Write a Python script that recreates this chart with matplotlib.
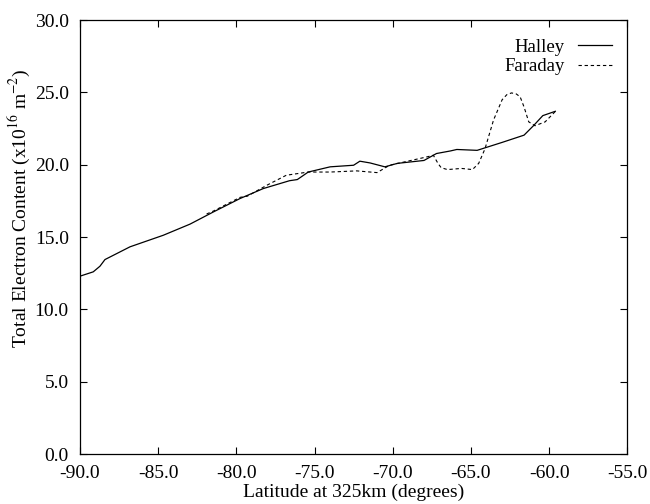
import matplotlib

matplotlib.use("Agg")
import matplotlib.pyplot as plt
from matplotlib.ticker import FormatStrFormatter, MultipleLocator

plt.rcParams["font.family"] = ["Liberation Serif", "DejaVu Serif"]
plt.rcParams["mathtext.fontset"] = "stix"
plt.rcParams["axes.unicode_minus"] = False

# Halley TEC vs latitude
halley_lat = [-90.0, -89.15, -88.72, -88.4, -86.8, -84.67, -82.96, -81.47, -79.76,
              -78.27, -76.6, -76.1, -75.4, -74.0, -72.5, -72.1, -71.45, -70.5, -69.7,
              -68.0, -67.2, -66.3, -65.9, -64.6, -63.0, -61.6, -61.0, -60.4, -59.6]
halley_tec = [12.3, 12.6, 12.99, 13.45, 14.33, 15.13, 15.9, 16.74, 17.67,
              18.36, 18.9, 18.98, 19.5, 19.86, 19.97, 20.25, 20.13, 19.86, 20.1,
              20.3, 20.78, 20.96, 21.06, 21.0, 21.55, 22.05, 22.7, 23.4, 23.7]

# Faraday TEC vs latitude
faraday_lat = [-81.9, -81.47, -79.76, -79.3, -78.06, -76.8, -75.4, -74.0, -72.3,
               -71.0, -70.2, -67.8, -67.4, -67.1, -66.9, -66.5, -65.6, -64.9,
               -64.5, -64.1, -63.55, -63.0, -62.7, -62.4, -62.1, -61.85, -61.6,
               -61.3, -60.9, -60.25, -59.5]
faraday_tec = [16.6, 16.8, 17.75, 17.83, 18.58, 19.28, 19.5, 19.5, 19.58,
               19.46, 19.97, 20.55, 20.66, 20.09, 19.8, 19.67, 19.75, 19.67,
               20.1, 21.1, 23.1, 24.5, 24.85, 24.97, 24.9, 24.7, 24.0,
               22.97, 22.7, 22.97, 23.8]

fig = plt.figure(figsize=(6.5, 5.04), dpi=100)
ax = fig.add_axes([0.123, 0.099, 0.842, 0.861])

ax.plot(halley_lat, halley_tec, color="black", linewidth=0.9, label="Halley")
ax.plot(faraday_lat, faraday_tec, color="black", linewidth=0.8,
        linestyle=(0, (3, 2.5)), label="Faraday")

ax.set_xlim(-90, -55)
ax.set_ylim(0, 30)
ax.xaxis.set_major_locator(MultipleLocator(5))
ax.yaxis.set_major_locator(MultipleLocator(5))
ax.xaxis.set_major_formatter(FormatStrFormatter("%.1f"))
ax.yaxis.set_major_formatter(FormatStrFormatter("%.1f"))
ax.tick_params(direction="in", top=True, right=True, length=5, width=0.8,
               labelsize=14, pad=8)
for spine in ax.spines.values():
    spine.set_linewidth(0.9)

ax.set_xlabel("Latitude at 325km (degrees)", fontsize=14, labelpad=1)
ax.set_ylabel(r"Total Electron Content (x10$^{16}$ m$^{-2}$)", fontsize=14)
ax.yaxis.set_label_coords(-0.088, 0.567)

ax.legend(loc="upper right", bbox_to_anchor=(1.0, 0.993), frameon=False,
          markerfirst=False, fontsize=13.5, handlelength=1.8, handletextpad=0.7,
          labelspacing=0.12, borderaxespad=0.42)

fig.savefig("out.png", dpi=100)
